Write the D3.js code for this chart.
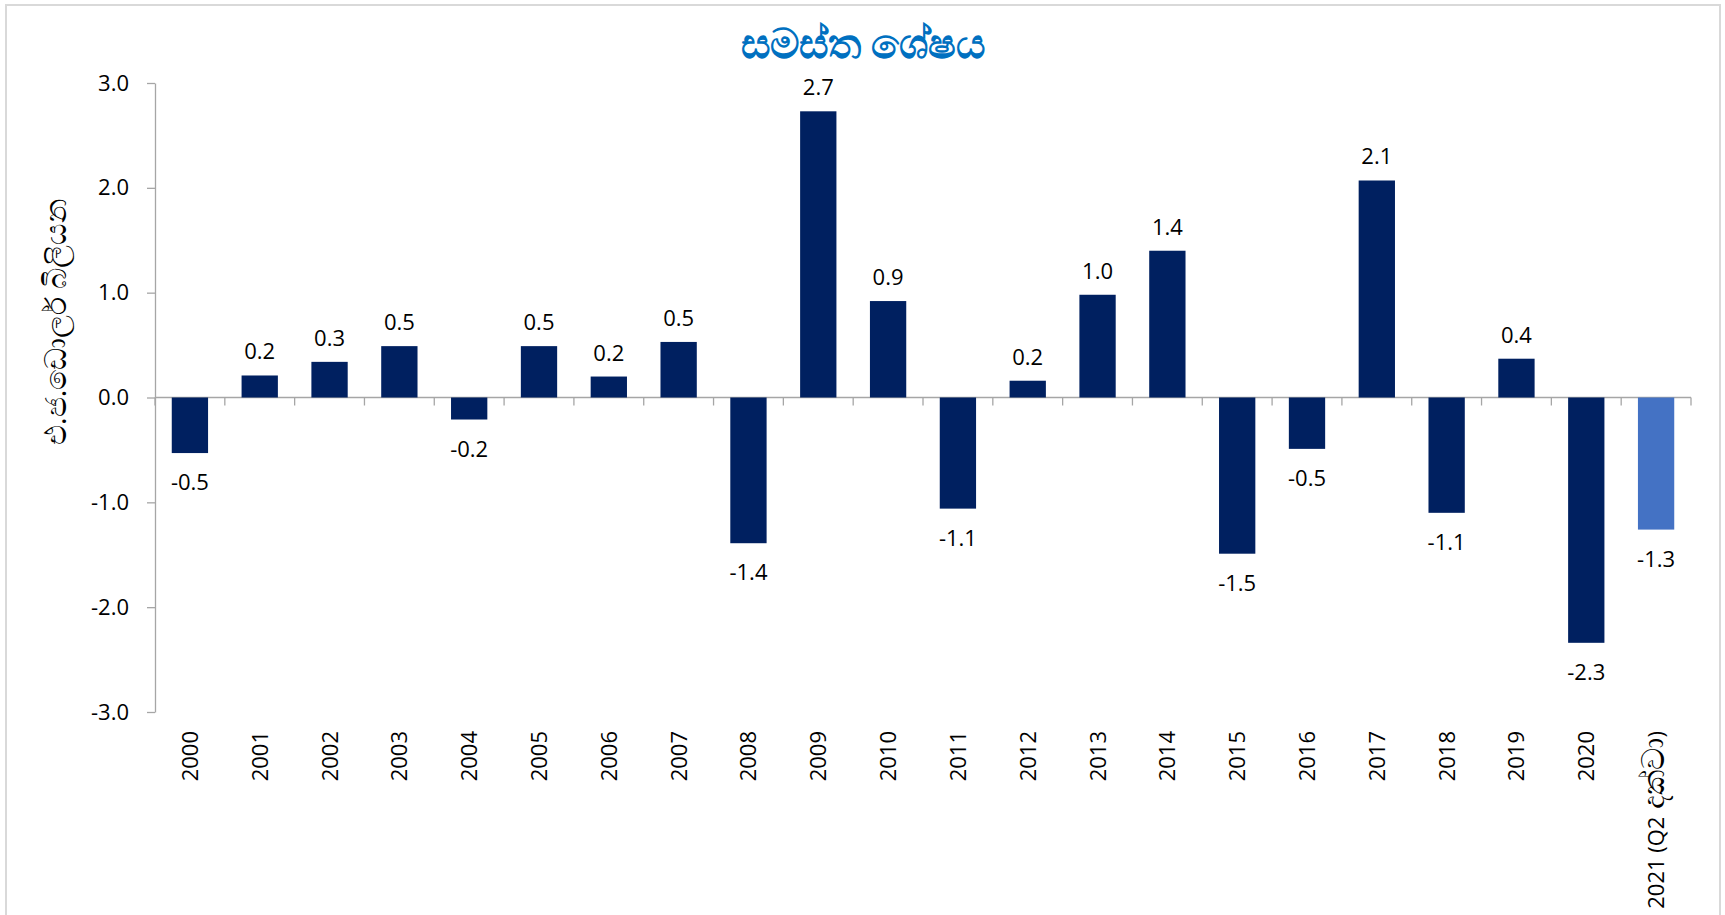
<!DOCTYPE html>
<html>
<head>
<meta charset="utf-8">
<script src="https://cdn.jsdelivr.net/npm/d3@7"></script>
<style>
  body { margin: 0; background: #fff; }
  text { font-family: "Open Sans", "Noto Sans", sans-serif; }
</style>
</head>
<body>
<div id="chart"></div>
<script>
// categories and values (USD bn)
var years = ["2000","2001","2002","2003","2004","2005","2006","2007","2008","2009","2010",
             "2011","2012","2013","2014","2015","2016","2017","2018","2019","2020","2021 (Q2 දක්වා)"];
var balance = [-0.53, 0.21, 0.34, 0.49, -0.21, 0.49, 0.2, 0.53, -1.39, 2.73, 0.92,
               -1.06, 0.16, 0.98, 1.40, -1.49, -0.49, 2.07, -1.1, 0.37, -2.34, -1.26];
var yTicks = [-3, -2, -1, 0, 1, 2, 3];
var title = "සමස්ත ශේෂය";
var yTitle = "එ.ජ.ඩොලර් බිලියන";

var W = 1725, H = 915;
var margin = {top: 83, right: 34, bottom: 203, left: 155},
    width = W - margin.left - margin.right,
    height = H - margin.top - margin.bottom;

// hyphen minus like the original, not the unicode one
var fmt = d3.formatLocale({decimal: ".", thousands: ",", grouping: [3], currency: ["", ""], minus: "-"}).format(".1f");

var svg = d3.select("#chart").append("svg")
    .attr("width", W)
    .attr("height", H);

// outer chart border
svg.append("rect")
    .attr("x", 6).attr("y", 5)
    .attr("width", 1714).attr("height", 930)
    .attr("fill", "none")
    .attr("stroke", "#d9d9d9")
    .attr("stroke-width", 2);

svg.append("text")
    .attr("x", 863).attr("y", 58)
    .attr("text-anchor", "middle")
    .style("font-size", "41px")
    .style("font-weight", "bold")
    .attr("fill", "#0070c0")
    .text(title);

var g = svg.append("g")
    .attr("transform", "translate(" + margin.left + "," + margin.top + ")");

var x = d3.scaleBand()
    .domain(years)
    .range([0, width])
    .paddingInner(0.48)
    .paddingOuter(0.24);

var y = d3.scaleLinear()
    .domain([-3, 3])
    .range([height, 0]);

// y axis
var yAxis = g.append("g")
    .call(d3.axisLeft(y).tickValues(yTicks).tickSize(8).tickSizeOuter(0).tickFormat(fmt));
yAxis.select(".domain").attr("stroke", "#a6a6a6").attr("stroke-width", 1.3);
yAxis.selectAll(".tick line").attr("stroke", "#a6a6a6").attr("stroke-width", 1.3);
yAxis.selectAll(".tick text")
    .attr("x", -26)
    .style("font-size", "22px")
    .attr("fill", "#000");

// zero line with category ticks
var bounds = d3.range(years.length + 1).map(function(i) { return i * width / years.length; });
g.append("line")
    .attr("x1", 0).attr("x2", width)
    .attr("y1", y(0)).attr("y2", y(0))
    .attr("stroke", "#a6a6a6").attr("stroke-width", 1.3);
g.selectAll(".xtick").data(bounds).enter().append("line")
    .attr("x1", function(d) { return d; }).attr("x2", function(d) { return d; })
    .attr("y1", y(0)).attr("y2", y(0) + 8)
    .attr("stroke", "#a6a6a6").attr("stroke-width", 1.3);

// bars
g.selectAll(".bar").data(balance).enter().append("rect")
    .attr("x", function(d, i) { return x(years[i]); })
    .attr("width", x.bandwidth())
    .attr("y", function(d) { return y(Math.max(0, d)); })
    .attr("height", function(d) { return Math.abs(y(d) - y(0)); })
    .attr("fill", function(d, i) { return i == years.length - 1 ? "#4472c4" : "#002060"; });

// value labels
g.selectAll(".lbl").data(balance).enter().append("text")
    .attr("x", function(d, i) { return x(years[i]) + x.bandwidth() / 2; })
    .attr("y", function(d) { return d >= 0 ? y(d) - 16 : y(d) + 37; })
    .attr("text-anchor", "middle")
    .style("font-size", "22px")
    .attr("fill", "#000")
    .text(function(d) { return fmt(d); });

// category labels, rotated; sinhala part a bit larger
var xl = g.selectAll(".xl").data(years).enter().append("text")
    .attr("transform", function(d) {
        return "translate(" + (x(d) + x.bandwidth() / 2 + 8) + "," + (height + 19) + ") rotate(-90)";
    })
    .attr("text-anchor", "end")
    .style("font-size", "22px")
    .attr("fill", "#000");
xl.each(function(d) {
    var t = d3.select(this);
    var k = d.indexOf("(");
    if (k < 0) { t.text(d); return; }
    t.append("tspan").text(d.slice(0, k + 3));
    t.append("tspan").style("font-size", "31px").text(d.slice(k + 3, d.length - 1));
    t.append("tspan").text(")");
});

// y axis title
svg.append("text")
    .attr("transform", "translate(66,322) rotate(-90)")
    .attr("text-anchor", "middle")
    .style("font-size", "30px")
    .attr("fill", "#000")
    .text(yTitle);
</script>
</body>
</html>
